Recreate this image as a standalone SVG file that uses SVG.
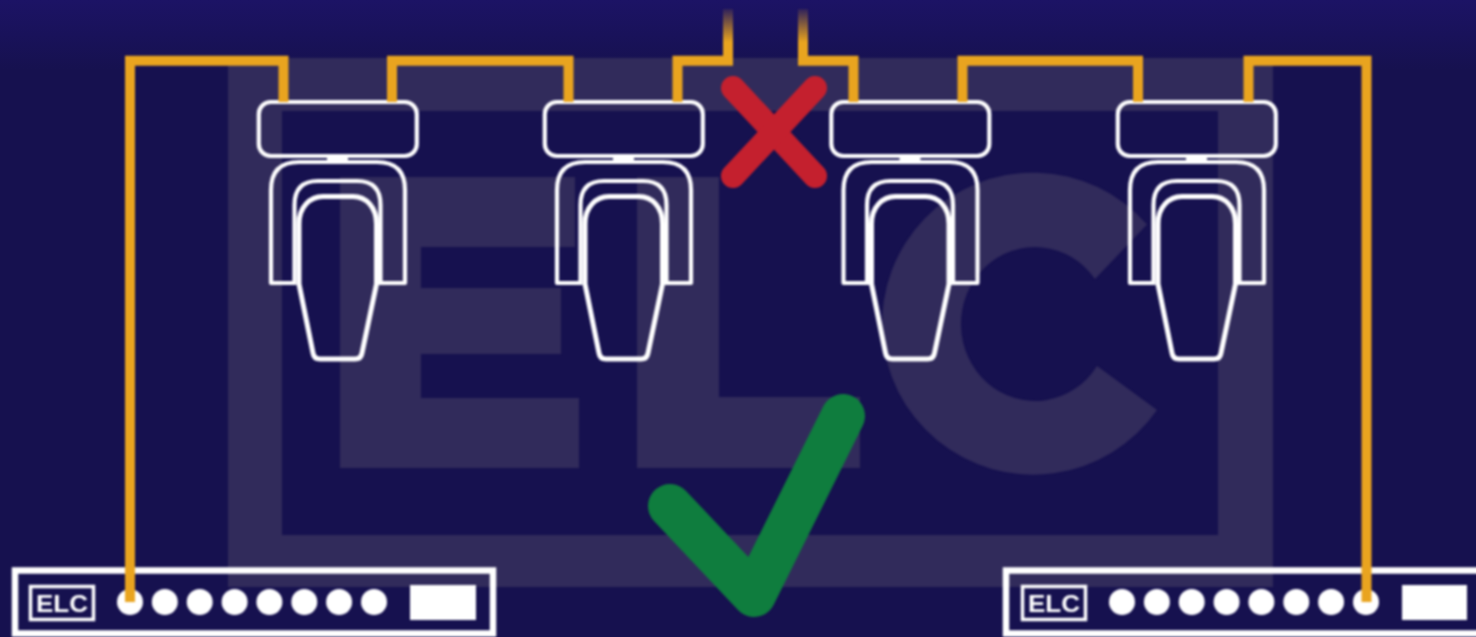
<svg xmlns="http://www.w3.org/2000/svg" xmlns:xlink="http://www.w3.org/1999/xlink" width="1476" height="637" viewBox="0 0 1476 637">
  <style>
    .logo { fill: #312b5b; fill-rule: evenodd; }
    .line { fill: none; stroke: #ffffff; stroke-width: 4.2; stroke-linejoin: round; }
    .head { fill: none; stroke: #ffffff; stroke-width: 5; stroke-linejoin: round; }
    .solid { fill: #ffffff; }
    .panel { fill: none; stroke: #ffffff; stroke-width: 6.5; }
    .badge { fill: none; stroke: #ffffff; stroke-width: 3.5; }
    .brand { fill: #ffffff; font-family: "Liberation Sans", Arial, sans-serif; font-weight: 700; font-size: 24px; text-anchor: middle; }
    .wire { fill: none; stroke: url(#wireFade); stroke-width: 10; stroke-linejoin: miter; }
  </style>
  <defs>
    <linearGradient id="bg" gradientUnits="userSpaceOnUse" x1="0" y1="0" x2="0" y2="70">
      <stop offset="0" stop-color="#1c1365"/>
      <stop offset="1" stop-color="#16114f"/>
    </linearGradient>
    <linearGradient id="wireFade" gradientUnits="userSpaceOnUse" x1="0" y1="9" x2="0" y2="42">
      <stop offset="0" stop-color="#e9a41f" stop-opacity="0.1"/>
      <stop offset="1" stop-color="#e9a41f"/>
    </linearGradient>
    <filter id="soft" filterUnits="userSpaceOnUse" x="-20" y="-20" width="1516" height="677" color-interpolation-filters="sRGB"><feGaussianBlur stdDeviation="0.8"/></filter>
    <g id="fixture">
      <rect class="line" x="258.800" y="102" width="158" height="54" rx="12"/>
      <rect class="solid" x="327" y="155" width="21" height="7"/>
      <path class="line" d="M293 283 H271 V190 Q271 162 299 162 H377 Q405 162 405 190 V283 H381"/>
      <path class="line" d="M294.500 285 V205 Q294.500 181 318 181 H357 Q380.500 181 380.500 205 V285"/>
      <path class="head" d="M299 284 V224 C299 207 310 196.500 323 196.500 H353 C366 196.500 376.500 207 376.500 224 V284 L362 353 Q361 359 355 359 H320 Q314 359 313 353 Z"/>
    </g>
  </defs>
  <rect id="background" width="1476" height="637" fill="url(#bg)"/>
  <g filter="url(#soft)">
    <g id="logo">
      <path class="logo" d="M228 58 H1273 V587 H228 Z M282 111 V535 H1218 V111 Z"/>
      <path class="logo" d="M340 177 H575 V247 H421 V288 H561 V354 H421 V398 H579 V468 H340 Z"/>
      <path class="logo" d="M637 177 H719 V397 H860 V468 H637 Z"/>
      <path class="logo" d="M1147 224.500 A151 151 0 1 0 1157 410 L1097 366 A74 77 0 1 1 1095 279 Z"/>
    </g>
    <g id="fixture-1"><use href="#fixture"/></g>
    <g id="fixture-2"><use href="#fixture" x="286"/></g>
    <g id="fixture-3"><use href="#fixture" x="572.500"/></g>
    <g id="fixture-4"><use href="#fixture" x="859"/></g>
    <g id="controller-left">
      <rect class="panel" x="15" y="570.500" width="478" height="63"/>
      <rect class="badge" x="30.500" y="586.500" width="63" height="33"/>
      <text class="brand" x="62" y="611.500" textLength="52" lengthAdjust="spacingAndGlyphs">ELC</text>
      <g class="solid">
        <circle cx="130" cy="602" r="13"/><circle cx="164.800" cy="602" r="13"/><circle cx="199.700" cy="602" r="13"/><circle cx="234.600" cy="602" r="13"/><circle cx="269.400" cy="602" r="13"/><circle cx="304.300" cy="602" r="13"/><circle cx="339.100" cy="602" r="13"/><circle cx="374" cy="602" r="13"/>
        <rect x="410" y="585" width="66" height="35"/>
      </g>
    </g>
    <g id="controller-right">
      <path class="panel" d="M1490 570.500 H1006 V633.500 H1490"/>
      <rect class="badge" x="1022.500" y="586.500" width="63" height="33"/>
      <text class="brand" x="1054" y="611.500" textLength="52" lengthAdjust="spacingAndGlyphs">ELC</text>
      <g class="solid">
        <circle cx="1122" cy="602" r="13"/><circle cx="1156.900" cy="602" r="13"/><circle cx="1191.700" cy="602" r="13"/><circle cx="1226.600" cy="602" r="13"/><circle cx="1261.400" cy="602" r="13"/><circle cx="1296.300" cy="602" r="13"/><circle cx="1331.100" cy="602" r="13"/><circle cx="1366" cy="602" r="13"/>
        <rect x="1402" y="585" width="65" height="35"/>
      </g>
    </g>
    <g id="connectors">
      <path class="wire" d="M130 602 V60.800 H283.500 V102"/>
      <path class="wire" d="M392 102 V60.800 H568.500 V102"/>
      <path class="wire" d="M677.500 102 V60.800 H728 V9"/>
      <path class="wire" d="M803 9 V60.800 H853.500 V102"/>
      <path class="wire" d="M962.500 102 V60.800 H1138 V102"/>
      <path class="wire" d="M1248.500 102 V60.800 H1366.500 V602"/>
    </g>
    <g id="cross-mark" fill="none" stroke="#c4202e" stroke-width="24" stroke-linecap="round">
      <path d="M733 88 L815 176"/>
      <path d="M815 88 L733 176"/>
    </g>
    <path id="check-mark" d="M670 506 L754 595 L843 416" fill="none" stroke="#0f7d3e" stroke-width="44" stroke-linecap="round" stroke-linejoin="round"/>
  </g>
</svg>
